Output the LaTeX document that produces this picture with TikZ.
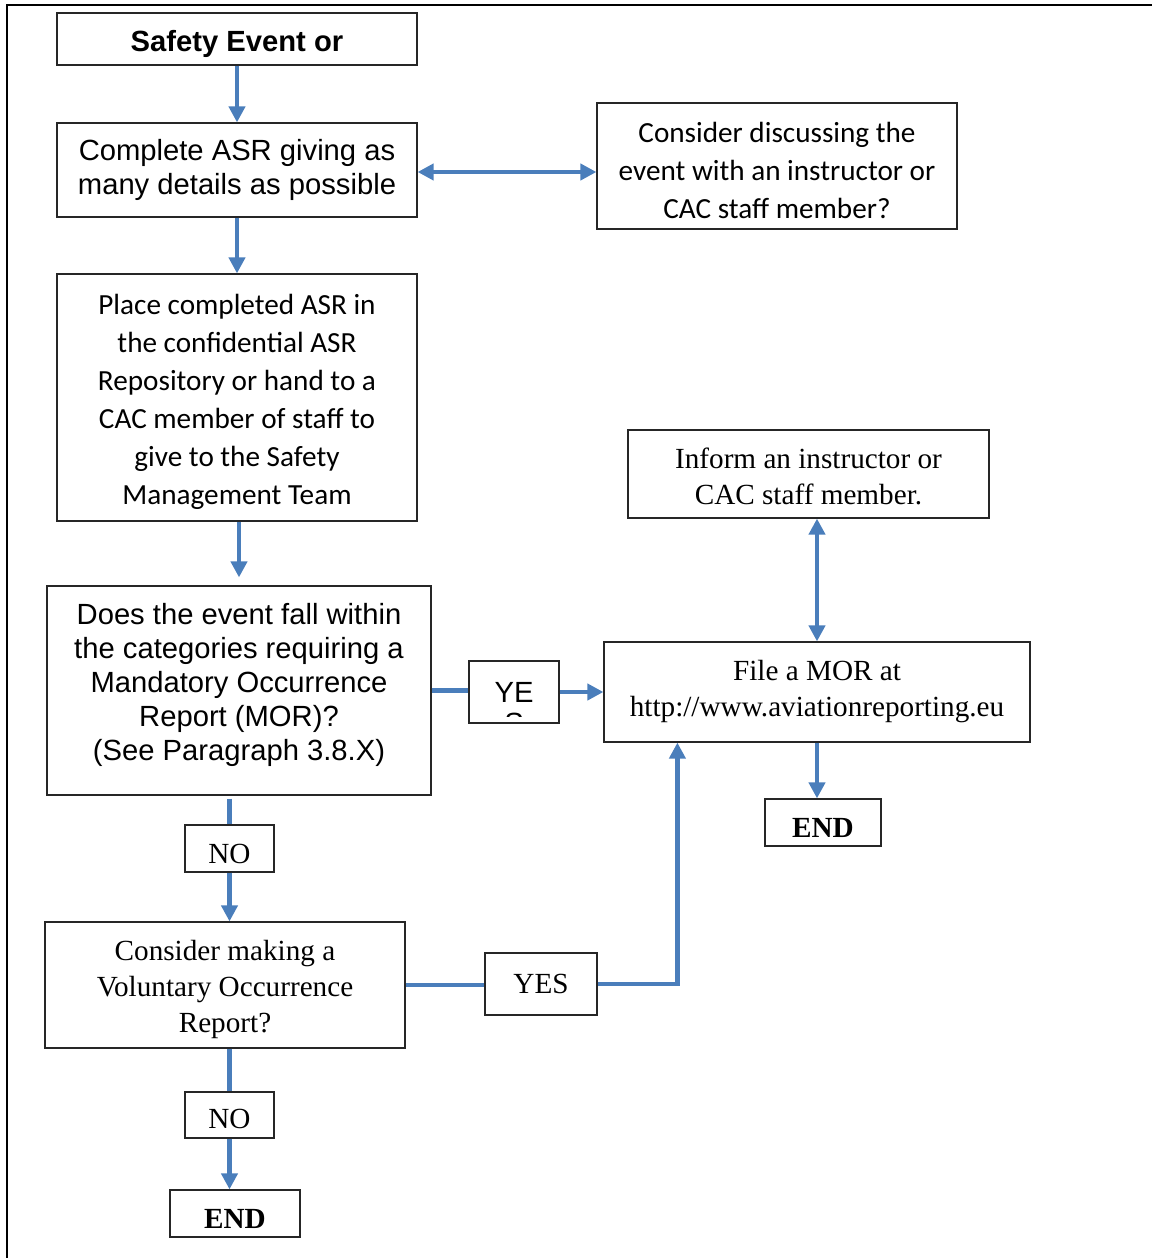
\documentclass[tikz,border=0pt]{standalone}
\usepackage{fontspec}
\setmainfont{Liberation Serif}
\newfontfamily\arialfont{Liberation Sans}
\newfontfamily\calibrifont{Carlito}
\usepackage{tikz}
\usetikzlibrary{arrows.meta, positioning}
\definecolor{flowblue}{RGB}{74,126,187}
\newcommand{\padtop}[1]{\rule{0pt}{#1}}

\begin{document}
\begin{tikzpicture}[x=0.5pt, y=-0.5pt,
        box/.style={draw=black!85, line width=0.6pt, inner sep=0pt, align=center},
        sansbox/.style={box, font=\arialfont\fontsize{14.6}{17}\selectfont},
        calbox/.style={box, font=\calibrifont\fontsize{14.6}{19}\selectfont},
        serifbox/.style={box, font=\fontsize{14.6}{18}\selectfont},
        textdown/.style={execute at begin node={\rule{0pt}{#1}}},
        textup/.style={execute at end node={\rule[-#1]{0pt}{#1}}},
        arrow/.style={-{Triangle[length=8pt, width=8pt]}, line width=2.2pt, flowblue},
        biarrow/.style={{Triangle[length=8pt, width=8pt]}-{Triangle[length=8pt, width=8pt]}, line width=2.2pt, flowblue},
        link/.style={line width=2.2pt, flowblue}
      ]
        \useasboundingbox (0,0) rectangle (1152,1258);
        % page frame
        \draw[line width=1.3pt] (7,1258) -- (7,5) -- (1152,5);

        \node[sansbox, textdown=15.6pt, minimum width=180pt, minimum height=26pt] (safety) at (237,39) {\bfseries Safety Event or};
        \node[sansbox, minimum width=180pt, minimum height=47pt] (complete) at (237,170)
          {Complete ASR giving as\\many details as possible};
        \node[calbox, minimum width=180pt, minimum height=63pt] (discuss) at (777,166)
          {\padtop{14.5pt}Consider discussing the\\event with an instructor or\\CAC staff member?};
        \node[calbox, minimum width=180pt, minimum height=123.5pt] (place) at (237,397.5)
          {\padtop{14.5pt}Place completed ASR in\\the confidential ASR\\Repository or hand to a\\CAC member of staff to\\give to the Safety\\Management Team};
        \node[serifbox, minimum width=180.5pt, minimum height=44pt] (inform) at (808.5,474)
          {\padtop{13pt}Inform an instructor or\\CAC staff member.};
        \node[sansbox, textup=9pt, minimum width=192pt, minimum height=104.5pt] (mor) at (239,690.5)
          {Does the event fall within\\the categories requiring a\\Mandatory Occurrence\\Report (MOR)?\\(See Paragraph 3.8.X)};
        \node[sansbox, minimum width=45pt, minimum height=31pt] (ye) at (514,692) {YE};
        \begin{scope}
          \clip ([yshift=3.5pt]ye.south west) rectangle (ye.north east);
          \node[font=\arialfont\fontsize{14.6}{17}\selectfont, inner sep=0pt] at (514,723) {S};
        \end{scope}
        \node[serifbox, minimum width=213pt, minimum height=50pt] (file) at (817,692)
          {File a MOR at\\http://www.aviationreporting.eu};
        \node[serifbox, textdown=14.9pt, minimum width=58pt, minimum height=23.5pt] (endA) at (823,822.5) {\bfseries END};
        \node[serifbox, textdown=14.7pt, minimum width=44.5pt, minimum height=23.5pt] (noA) at (229.5,848.5) {NO};
        \node[serifbox, minimum width=180pt, minimum height=63pt] (vor) at (225,985)
          {\padtop{14.5pt}Consider making a\\Voluntary Occurrence\\Report?};
        \node[serifbox, minimum width=56pt, minimum height=31pt] (yes) at (541,984) {YES};
        \node[serifbox, textdown=13.7pt, minimum width=44.5pt, minimum height=23pt] (noB) at (229.5,1115) {NO};
        \node[serifbox, textdown=14.9pt, minimum width=65pt, minimum height=23.5pt] (endB) at (235,1213.5) {\bfseries END};

        \draw[arrow] (safety) -- (complete);
        \draw[biarrow] ([yshift=-1pt]complete.east) -- ([yshift=-1pt]complete.east -| discuss.west);
        \draw[arrow] (complete) -- (place);
        \draw[arrow, shorten >=4pt] (mor.north |- place.south) -- (mor.north);
        \draw[link] (mor.east) -- (mor.east -| ye.west);
        \draw[arrow] (ye.east) -- (ye.east -| file.west);
        \draw[biarrow] (file.north) -- (file.north |- inform.south);
        \draw[arrow] (file.south) -- (file.south |- endA.north);
        \draw[link] ([yshift=-1.5pt]noA.north |- mor.south) -- (noA.north);
        \draw[arrow] (noA.south) -- (noA.south |- vor.north);
        \draw[link] (vor.east) -- (vor.east -| yes.west);
        \draw[arrow] (yes.east) -| ([xshift=37pt]file.south west);
        \draw[link] (noB.north |- vor.south) -- (noB.north);
        \draw[arrow] (noB.south) -- (noB.south |- endB.north);
      \end{tikzpicture}
\end{document}
